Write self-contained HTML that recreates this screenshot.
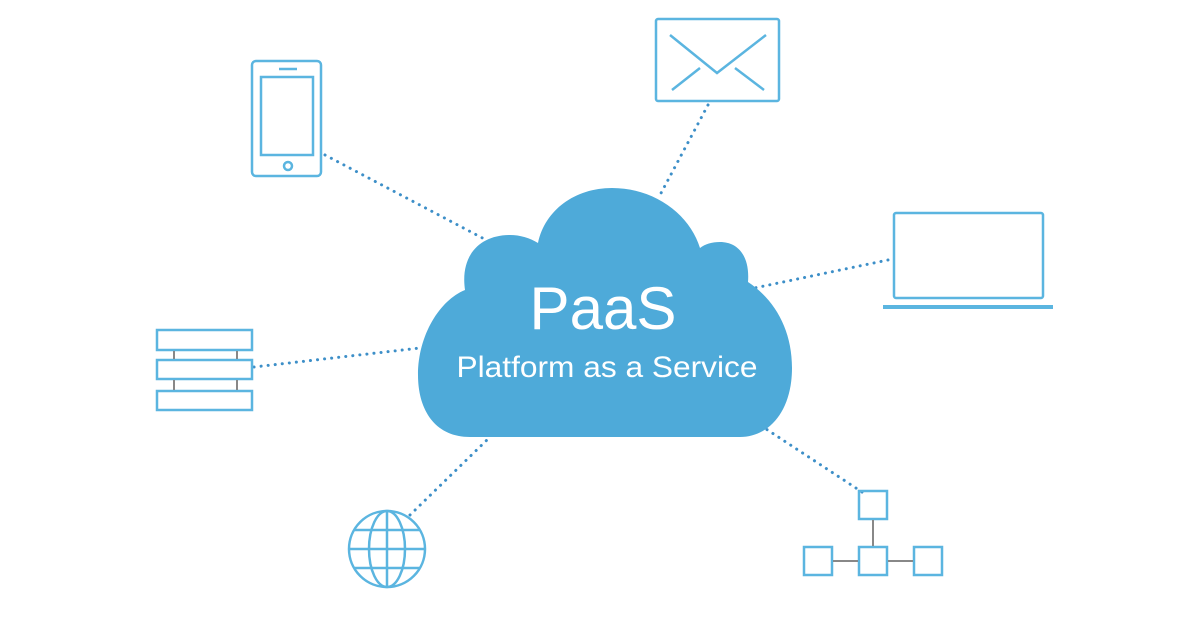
<!DOCTYPE html>
<html><head><style>html,body{margin:0;padding:0;background:#fff;}svg{display:block}</style></head>
<body>
<svg width="1200" height="630" viewBox="0 0 1200 630" xmlns="http://www.w3.org/2000/svg">
<g stroke="#3d8fc8" stroke-width="3" stroke-linecap="round" stroke-dasharray="0.1 7" fill="none">
<line x1="325" y1="155" x2="490" y2="242"/>
<line x1="708" y1="105" x2="660" y2="195"/>
<line x1="888" y1="260" x2="745" y2="290"/>
<line x1="254" y1="367" x2="420" y2="348"/>
<line x1="410" y1="515" x2="490" y2="437"/>
<line x1="862" y1="492" x2="760" y2="425"/>
</g>
<path fill="#4eaad9" d="M 470,437 C 435,437 418,410 418,375 C 418,335 440,300 465,290 C 460,255 480,235 510,235 C 520,235 530,238 538,243 C 545,210 575,188 612,188 C 655,188 690,215 700,248 C 705,244 712,242 720,242 C 738,242 750,256 748,282 C 775,300 792,330 792,368 C 792,410 770,437 740,437 Z"/>
<text x="603" y="329" text-anchor="middle" font-family="Liberation Sans, sans-serif" font-size="60" fill="#fff" textLength="147" lengthAdjust="spacingAndGlyphs">PaaS</text>
<text x="607" y="377" text-anchor="middle" font-family="Liberation Sans, sans-serif" font-size="30" fill="#fff" textLength="301" lengthAdjust="spacingAndGlyphs">Platform as a Service</text>
<g stroke="#5bb5e0" stroke-width="2.5" fill="none">
<rect x="252" y="61" width="69" height="115" rx="4"/>
<rect x="261" y="77" width="52" height="78"/>
<line x1="279" y1="69" x2="297" y2="69"/>
<circle cx="288" cy="166" r="4"/>
<rect x="656" y="19" width="123" height="82" rx="2"/>
<polyline points="670,35 717,73 766,35"/>
<line x1="672" y1="90" x2="700" y2="68"/>
<line x1="764" y1="90" x2="735" y2="68"/>
<rect x="894" y="213" width="149" height="85" rx="2"/>
<line x1="883" y1="307" x2="1053" y2="307" stroke-width="4"/>
<rect x="157" y="330" width="95" height="20"/>
<rect x="157" y="360" width="95" height="19"/>
<rect x="157" y="391" width="95" height="19"/>
<circle cx="387" cy="549" r="38"/>
<ellipse cx="387" cy="549" rx="18" ry="38"/>
<line x1="387" y1="511" x2="387" y2="587"/>
<line x1="349" y1="549" x2="425" y2="549"/>
<line x1="354" y1="530" x2="420" y2="530"/>
<line x1="354" y1="568" x2="420" y2="568"/>
<rect x="859" y="491" width="28" height="28"/>
<rect x="804" y="547" width="28" height="28"/>
<rect x="859" y="547" width="28" height="28"/>
<rect x="914" y="547" width="28" height="28"/>
</g>
<g stroke="#888" stroke-width="2">
<line x1="174" y1="351" x2="174" y2="359"/><line x1="237" y1="351" x2="237" y2="359"/>
<line x1="174" y1="380" x2="174" y2="390"/><line x1="237" y1="380" x2="237" y2="390"/>
<line x1="873" y1="520" x2="873" y2="546"/>
<line x1="833" y1="561" x2="858" y2="561"/>
<line x1="888" y1="561" x2="913" y2="561"/>
</g>
</svg>
</body></html>
